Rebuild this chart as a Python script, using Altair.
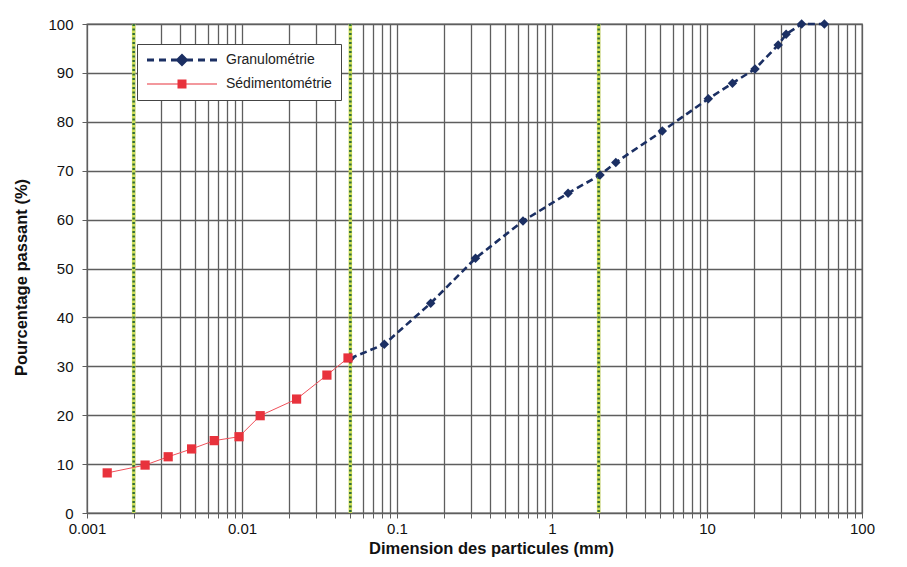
import altair as alt
import pandas as pd

# ---------------- data ----------------
sed_x = [0.00135, 0.00237, 0.00334, 0.00473, 0.00662, 0.00957, 0.0131, 0.0225, 0.0353, 0.0483]
sed_y = [8.2, 9.8, 11.5, 13.1, 14.8, 15.6, 19.9, 23.3, 28.2, 31.7]

gran_x = [0.0498, 0.0828, 0.165, 0.321, 0.650, 1.27, 2.04, 2.58, 5.15, 10.2,
          14.6, 20.4, 28.8, 32.4, 40.8, 57.2]
gran_y = [31.6, 34.5, 42.9, 52.1, 59.7, 65.4, 69.1, 71.7, 78.1, 84.7,
          87.9, 90.8, 95.7, 97.9, 100.0, 100.0]

limits_x = [0.002, 0.05, 2.0]
series = ["Granulométrie", "Sédimentométrie"]
x_decades = [0.001, 0.01, 0.1, 1, 10, 100]
y_ticks = [0, 10, 20, 30, 40, 50, 60, 70, 80, 90, 100]

NAVY = "#1b2f63"
RED = "#e8323c"
FONT = "Liberation Sans"
GRID = "#5e5e5e"

# minor + major x tick values (1..9 per decade)
x_ticks = []
for d in x_decades[:-1]:
    for k in range(1, 10):
        x_ticks.append(float(f"{k * d:.6g}"))
x_ticks.append(100.0)

sed = pd.DataFrame({"x": sed_x, "y": sed_y})
gran = pd.DataFrame({"x": gran_x, "y": gran_y})
lim = pd.DataFrame({"x": limits_x})
leg = pd.DataFrame({"x": [0.0001, 0.0001], "y": [50, 50], "serie": series})

# ---------------- custom legend symbols (line + marker) ----------------
S = 6.0  # symbol scale: sqrt(size)/2


def u(px, py):
    return f"{(px - 6) / S:.3f},{py / S:.3f}"


def rect(x0, x1, h):
    return f"M{u(x0, -h)}L{u(x1, -h)}L{u(x1, h)}L{u(x0, h)}Z"


gran_sym = "".join(rect(a, b, 1.5) for a, b in [(0, 7), (12, 19), (24, 30), (40, 46), (51, 58), (63, 70)])
gran_sym += f"M{u(35, -6.5)}L{u(41.5, 0)}L{u(35, 6.5)}L{u(28.5, 0)}Z"
sed_sym = rect(0, 70, 0.6) + rect(30.5, 39.5, 4.5)

# ---------------- chart ----------------
x_scale = alt.Scale(type="log", domain=[0.001, 100])
y_scale = alt.Scale(domain=[0, 100])

x_axis = alt.Axis(
    values=x_ticks,
    labelExpr="indexof([0.001,0.01,0.1,1,10,100], datum.value) >= 0 ? format(datum.value, '~g') : ''",
    grid=True, gridColor=GRID, gridWidth=1.3,
    tickColor=GRID, tickSize=5, domainColor=GRID,
    labelFont=FONT, labelFontSize=15, labelColor="#111", labelPadding=3,
    labelFlush=False, labelOverlap=False,
    title="Dimension des particules (mm)", titleFont=FONT, titleFontSize=16.5,
    titleFontWeight="bold", titleColor="#111",
    titleX=404, titleY=40, titleAlign="center", titleBaseline="alphabetic",
)
y_axis = alt.Axis(
    values=y_ticks, grid=True, gridColor=GRID, gridWidth=1.3,
    tickColor=GRID, tickSize=5, domainColor=GRID,
    labelFont=FONT, labelFontSize=15, labelColor="#111", labelPadding=9,
    labelFlush=False,
    title="Pourcentage passant  (%)", titleFont=FONT, titleFontSize=16.5,
    titleFontWeight="bold", titleColor="#111",
    titleX=-66, titleY=253, titleAngle=270, titleAlign="center", titleBaseline="middle",
)

base_x = alt.X("x:Q", scale=x_scale, axis=x_axis)
base_y = alt.Y("y:Q", scale=y_scale, axis=y_axis)

limit_bg = alt.Chart(lim).mark_rule(color="#cfe05a", strokeWidth=3.5).encode(
    x=alt.X("x:Q", scale=x_scale)
)
limit_dots = alt.Chart(lim).mark_rule(color="#2f6b3a", strokeWidth=2.5, strokeDash=[2, 2.5]).encode(
    x=alt.X("x:Q", scale=x_scale)
)

gran_line = alt.Chart(gran).mark_line(color=NAVY, strokeWidth=2.6, strokeDash=[7, 4]).encode(
    x=base_x, y=base_y
)
gran_pts = alt.Chart(gran).mark_point(shape="diamond", filled=True, color=NAVY, size=90, opacity=1).encode(
    x=alt.X("x:Q", scale=x_scale), y=alt.Y("y:Q", scale=y_scale)
)
sed_line = alt.Chart(sed).mark_line(color="#f0505a", strokeWidth=1).encode(
    x=alt.X("x:Q", scale=x_scale), y=alt.Y("y:Q", scale=y_scale)
)
sed_pts = alt.Chart(sed).mark_point(shape="square", filled=True, color=RED, size=85, opacity=1).encode(
    x=alt.X("x:Q", scale=x_scale), y=alt.Y("y:Q", scale=y_scale)
)

legend_opts = dict(
    title=None, orient="none", legendX=50, legendY=20,
    strokeColor="#444", fillColor="white", padding=9,
    symbolSize=144, labelOffset=66, labelFont=FONT, labelFontSize=14,
    labelColor="#222", rowPadding=10, symbolStrokeWidth=0,
)

legend_layer = alt.Chart(leg).mark_point(filled=True, opacity=1, clip=True, size=144).encode(
    x=alt.X("x:Q", scale=x_scale),
    y=alt.Y("y:Q", scale=y_scale),
    color=alt.Color("serie:N", scale=alt.Scale(domain=series, range=[NAVY, RED]),
                    legend=alt.Legend(**legend_opts)),
    shape=alt.Shape("serie:N", scale=alt.Scale(domain=series, range=[gran_sym, sed_sym]),
                    legend=alt.Legend(**legend_opts)),
)

chart = alt.layer(
    gran_line, limit_bg, limit_dots, gran_pts, sed_line, sed_pts, legend_layer
).properties(
    width=775, height=489,
    autosize=alt.AutoSizeParams(type="none"),
    padding={"left": 79, "top": 16, "right": 30, "bottom": 44},
    background="white",
).configure_view(stroke=GRID, strokeWidth=1.3)

chart.save("out.html", embed_options={"renderer": "svg", "actions": False})
